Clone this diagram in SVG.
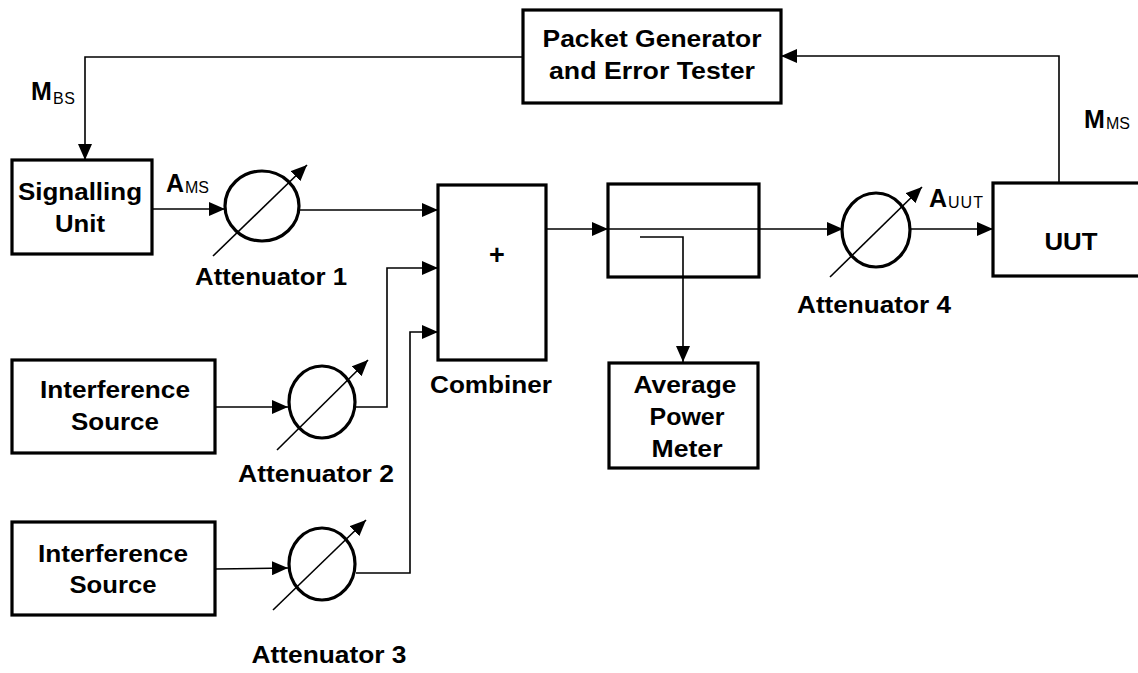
<svg xmlns="http://www.w3.org/2000/svg" width="1138" height="673" viewBox="0 0 1138 673">
<defs>
<marker id="ah" markerUnits="userSpaceOnUse" markerWidth="16" markerHeight="14" refX="16" refY="7" orient="auto">
<path d="M0,0 L16,7 L0,14 Z" fill="#000"/>
</marker>
<style>
.box{fill:#fff;stroke:#000;stroke-width:3.2}
.ring{fill:none;stroke:#000;stroke-width:3.2}
.c{fill:none;stroke:#000;stroke-width:1.6}
.dg{fill:none;stroke:#000;stroke-width:1.6}
text{font-family:"Liberation Sans",Arial,sans-serif;font-weight:bold;fill:#000}
.t{font-size:24px;text-anchor:middle}
.lb{font-size:25px}
.sub{font-size:16px;font-weight:normal}
</style>
</defs>
<rect width="1138" height="673" fill="#fff"/>

<g id="connectors">
<polyline class="c" points="523,57 85,57 85,160" marker-end="url(#ah)"/>
<polyline class="c" points="1059,183 1059,56 781,56" marker-end="url(#ah)"/>
<line class="c" x1="152" y1="209" x2="225" y2="209" marker-end="url(#ah)"/>
<line class="c" x1="299" y1="210" x2="438" y2="210" marker-end="url(#ah)"/>
<line class="c" x1="215" y1="407" x2="288" y2="407" marker-end="url(#ah)"/>
<polyline class="c" points="356,407 387,407 387,268 438,268" marker-end="url(#ah)"/>
<line class="c" x1="215" y1="569" x2="288" y2="568" marker-end="url(#ah)"/>
<polyline class="c" points="356,573 410,573 410,332 438,332" marker-end="url(#ah)"/>
<line class="c" x1="546" y1="229" x2="608" y2="229" marker-end="url(#ah)"/>
<line class="c" x1="608" y1="229" x2="843" y2="229" marker-end="url(#ah)"/>
<polyline class="c" points="640,237 683,237 683,362" marker-end="url(#ah)"/>
<line class="c" x1="910" y1="229" x2="993" y2="229" marker-end="url(#ah)"/>
</g>

<g id="packet-generator">
<rect class="box" x="523" y="10" width="258" height="93"/>
<text class="t" x="652" y="47" textLength="219" lengthAdjust="spacingAndGlyphs">Packet Generator</text>
<text class="t" x="652" y="79" textLength="206" lengthAdjust="spacingAndGlyphs">and Error Tester</text>
</g>

<g id="signalling-unit">
<rect class="box" x="12" y="160" width="140" height="94"/>
<text class="t" x="80" y="200" textLength="124" lengthAdjust="spacingAndGlyphs">Signalling</text>
<text class="t" x="80" y="232" textLength="50" lengthAdjust="spacingAndGlyphs">Unit</text>
</g>

<g id="label-mbs">
<text class="lb" x="31" y="100">M</text>
<text class="sub" x="53" y="104" textLength="22" lengthAdjust="spacing">BS</text>
</g>
<g id="label-ams">
<text class="lb" x="166" y="192">A</text>
<text class="sub" x="185" y="193" textLength="24" lengthAdjust="spacing">MS</text>
</g>
<g id="label-auut">
<text class="lb" x="929" y="207">A</text>
<text class="sub" x="948" y="208" textLength="35" lengthAdjust="spacing">UUT</text>
</g>
<g id="label-mms">
<text class="lb" x="1084" y="128">M</text>
<text class="sub" x="1106" y="129" textLength="24" lengthAdjust="spacing">MS</text>
</g>

<g id="attenuator-1">
<ellipse class="ring" cx="262" cy="206" rx="37" ry="35"/>
<line class="dg" x1="213" y1="256" x2="307" y2="165" marker-end="url(#ah)"/>
<text class="t" x="271" y="285" textLength="152" lengthAdjust="spacingAndGlyphs">Attenuator 1</text>
</g>

<g id="attenuator-2">
<ellipse class="ring" cx="322" cy="402" rx="33" ry="36"/>
<line class="dg" x1="277" y1="450" x2="368" y2="360" marker-end="url(#ah)"/>
<text class="t" x="316" y="482" textLength="156" lengthAdjust="spacingAndGlyphs">Attenuator 2</text>
</g>

<g id="attenuator-3">
<ellipse class="ring" cx="322" cy="564" rx="33" ry="36"/>
<line class="dg" x1="273" y1="610" x2="366" y2="520" marker-end="url(#ah)"/>
<text class="t" x="329" y="663" textLength="155" lengthAdjust="spacingAndGlyphs">Attenuator 3</text>
</g>

<g id="attenuator-4">
<ellipse class="ring" cx="876" cy="230" rx="34" ry="37"/>
<line class="dg" x1="830" y1="277" x2="922" y2="187" marker-end="url(#ah)"/>
<text class="t" x="874" y="313" textLength="154" lengthAdjust="spacingAndGlyphs">Attenuator 4</text>
</g>

<g id="interference-source-1">
<rect class="box" x="12" y="360" width="203" height="93"/>
<text class="t" x="115" y="398" textLength="150" lengthAdjust="spacingAndGlyphs">Interference</text>
<text class="t" x="115" y="430" textLength="88" lengthAdjust="spacingAndGlyphs">Source</text>
</g>

<g id="interference-source-2">
<rect class="box" x="12" y="522" width="203" height="93"/>
<text class="t" x="113" y="562" textLength="150" lengthAdjust="spacingAndGlyphs">Interference</text>
<text class="t" x="113" y="593" textLength="87" lengthAdjust="spacingAndGlyphs">Source</text>
</g>

<g id="combiner">
<rect class="box" x="438" y="185" width="108" height="175"/>
<text class="t" x="497" y="264" style="font-size:27px">+</text>
<text class="t" x="491" y="393" textLength="122" lengthAdjust="spacingAndGlyphs">Combiner</text>
</g>

<g id="coupler">
<rect class="box" x="608" y="184" width="151" height="93" style="fill:none"/>
</g>

<g id="average-power-meter">
<rect class="box" x="609" y="363" width="149" height="105"/>
<text class="t" x="685" y="393" textLength="103" lengthAdjust="spacingAndGlyphs">Average</text>
<text class="t" x="687" y="425" textLength="75" lengthAdjust="spacingAndGlyphs">Power</text>
<text class="t" x="687" y="457" textLength="71" lengthAdjust="spacingAndGlyphs">Meter</text>
</g>

<g id="uut">
<rect class="box" x="993" y="183" width="152" height="93"/>
<text class="t" x="1071" y="250" textLength="53" lengthAdjust="spacingAndGlyphs">UUT</text>
</g>
</svg>
